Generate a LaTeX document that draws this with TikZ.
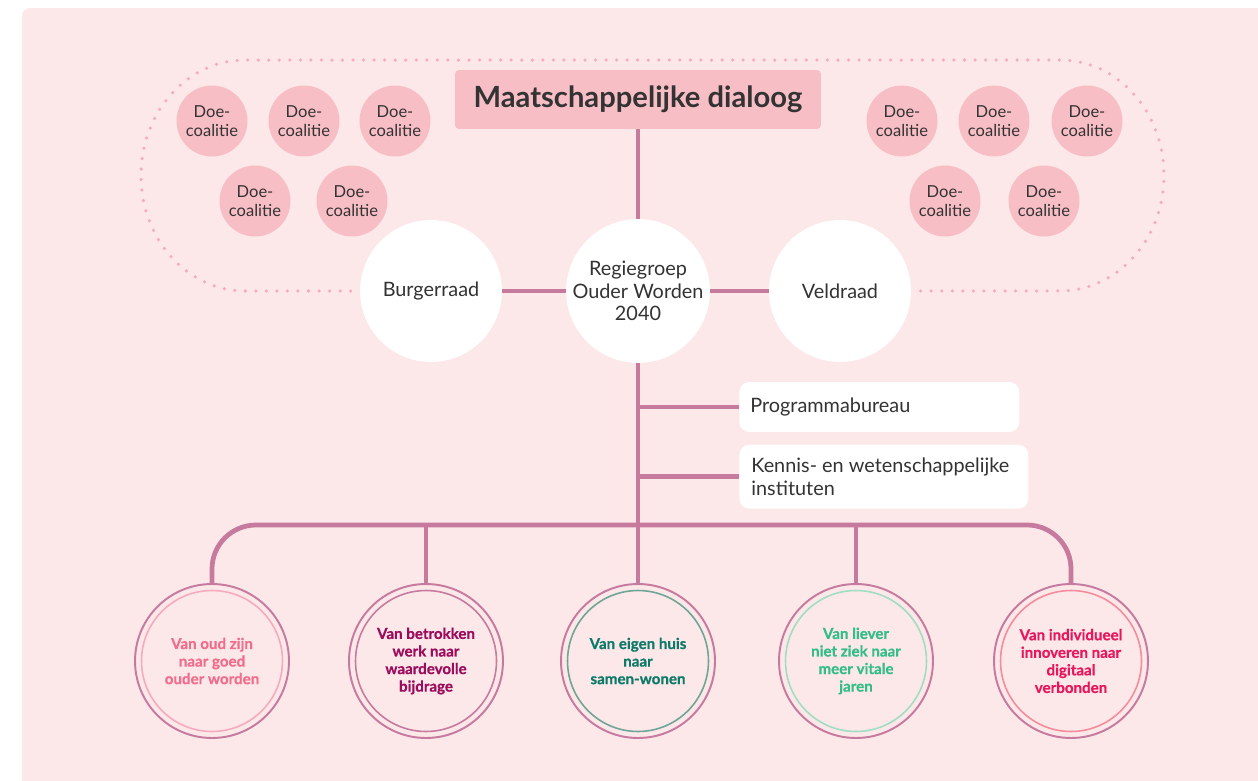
\documentclass[tikz,border=0pt]{standalone}
\usepackage{fontspec}
\setmainfont{Lato}
\newfontfamily\heavyfont{Lato}[BoldFeatures={FakeBold=0.6}]
\usepackage{tikz}
\usepackage{xcolor}
\usetikzlibrary{positioning}
\definecolor{bgpink}{RGB}{252, 231, 233}
\definecolor{softpink}{RGB}{248, 190, 197}
\definecolor{mauve}{RGB}{198, 122, 158}
\definecolor{dotpink}{RGB}{247, 172, 187}
\definecolor{textgray}{RGB}{51, 51, 51}
\definecolor{oudpink}{RGB}{240, 109, 140}
\definecolor{oudring}{RGB}{246, 170, 190}
\definecolor{werkplum}{RGB}{155, 12, 92}
\definecolor{huisteal}{RGB}{13, 122, 104}
\definecolor{huisring}{RGB}{110, 165, 150}
\definecolor{vitaalgreen}{RGB}{52, 190, 135}
\definecolor{vitaalring}{RGB}{160, 222, 195}
\definecolor{digitaalred}{RGB}{232, 22, 92}
\definecolor{digitaalring}{RGB}{245, 140, 155}
\tikzset{
    whitenode/.style={circle, fill=white, minimum size=2.84cm, inner sep=0pt, align=center, text=textgray, font=\fontsize{11.3}{12.8}\selectfont},
    doenode/.style={circle, fill=softpink, minimum size=1.42cm, inner sep=0pt, align=center, text=textgray, font=\fontsize{9.4}{10.9}\selectfont},
    titlenode/.style={rectangle, rounded corners=0.08cm, fill=softpink, minimum width=7.32cm, minimum height=1.18cm, text=textgray, font=\fontsize{16.6}{19}\selectfont\bfseries},
    boxnode/.style={rectangle, rounded corners=0.2cm, fill=white, align=flush left, text=textgray, font=\fontsize{11.3}{12.8}\selectfont},
    goalnode/.style 2 args={circle, draw=mauve, line width=1.1pt, minimum size=3.08cm, inner sep=0pt, align=center, text=#1, font=\heavyfont\fontsize{8.6}{10}\selectfont\bfseries,
        path picture={\draw[#2, line width=0.9pt] (path picture bounding box.center) circle (1.41cm);}},
    link/.style={mauve, line width=2.7pt},
    dotline/.style={dotpink, line width=2pt, line cap=round, dash pattern=on 0pt off 6pt}
}
\begin{document}
\begin{tikzpicture}[x=0.02cm, y=0.02cm]
    \useasboundingbox (0,0) rectangle (1258,-781);
    \fill[bgpink, rounded corners=0.16cm] (22,-8) rectangle (1290,-820);

    \node[titlenode] (title) at (638,-99.5) {Maatschappelijke dialoog};

    \node[doenode] (doe1) at (212,-121) {Doe-\\coalitie};
    \node[doenode] (doe2) at (304,-121) {Doe-\\coalitie};
    \node[doenode] (doe3) at (395,-121) {Doe-\\coalitie};
    \node[doenode] (doe4) at (255,-201) {Doe-\\coalitie};
    \node[doenode] (doe5) at (352,-201) {Doe-\\coalitie};
    \node[doenode] (doe6) at (902,-121) {Doe-\\coalitie};
    \node[doenode] (doe7) at (994,-121) {Doe-\\coalitie};
    \node[doenode] (doe8) at (1087,-121) {Doe-\\coalitie};
    \node[doenode] (doe9) at (945,-201) {Doe-\\coalitie};
    \node[doenode] (doe10) at (1044,-201) {Doe-\\coalitie};

    \node[whitenode] (br) at (431,-291) {Burgerraad};
    \node[whitenode] (rg) at (638,-291) {Regiegroep\\Ouder Worden\\2040};
    \node[whitenode] (vr) at (840,-291) {Veldraad};

    \node[boxnode, anchor=west, inner xsep=0.22cm, text width=5.16cm, minimum height=1cm] (pb) at (739,-407) {Programmabureau};
    \node[boxnode, below=0.24cm of pb.south west, anchor=north west, inner xsep=0.24cm, text width=5.3cm, minimum height=1.28cm] (ki) {Kennis- en wetenschappelijke\\instituten};

    \node[goalnode={oudpink}{oudring}] (oud) at (212,-661) {Van oud zijn\\naar goed\\ouder worden};
    \node[goalnode={werkplum}{mauve}] (werk) at (426,-661) {Van betrokken\\werk naar\\waardevolle\\bijdrage};
    \node[goalnode={huisteal}{huisring}] (huis) at (638,-661) {Van eigen huis\\naar\\samen-wonen};
    \node[goalnode={vitaalgreen}{vitaalring}] (vitaal) at (856,-661) {Van liever\\niet ziek naar\\meer vitale\\jaren};
    \node[goalnode={digitaalred}{digitaalring}] (digitaal) at (1071,-661) {Van individueel\\innoveren naar\\digitaal\\verbonden};

    \coordinate (bar) at (638,-525);

    \draw[dotline] ([xshift=-0.18cm]br.west) -- (245,-291)
        arc[start angle=270, end angle=90, x radius=2.08cm, y radius=2.31cm]
        -- (1060,-60)
        arc[start angle=90, end angle=-90, x radius=2.08cm, y radius=2.31cm]
        -- ([xshift=0.14cm]vr.east);

    \draw[link] (title.south) -- (rg.north);
    \draw[link] (br.east) -- (rg.west);
    \draw[link] (rg.east) -- (vr.west);
    \draw[link] (rg.south) -- (huis.north);
    \draw[link] (pb.west) -- (pb.west -| rg.south);
    \draw[link] (ki.west) -- (ki.west -| rg.south);
    \draw[link, rounded corners=0.88cm] (oud.north) |- (bar) -| (digitaal.north);
    \draw[link] (werk.north) -- (werk.north |- bar);
    \draw[link] (vitaal.north) -- (vitaal.north |- bar);
\end{tikzpicture}
\end{document}
